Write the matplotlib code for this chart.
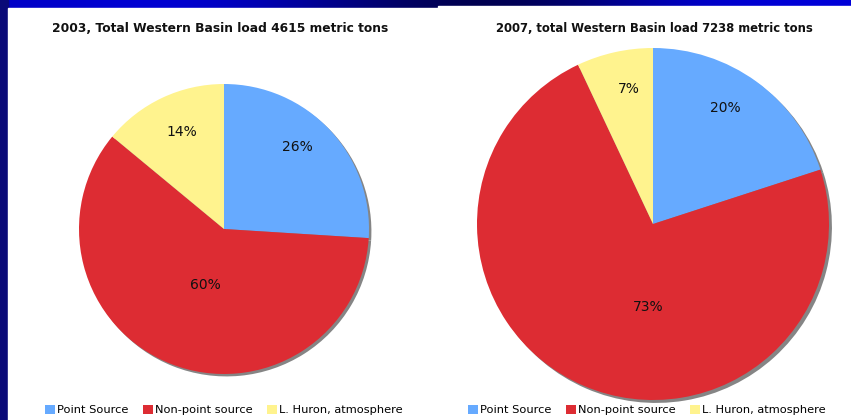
import numpy as np
import matplotlib.pyplot as plt
from matplotlib.patches import Patch, Rectangle

categories = ['Point Source', 'Non-point source', 'L. Huron, atmosphere']
colors = ['#66AAFF', '#DD2C33', '#FFF38E']

title_2003 = '2003, Total Western Basin load 4615 metric tons'
share_2003 = [26, 60, 14]
title_2007 = '2007, total Western Basin load 7238 metric tons'
share_2007 = [20, 73, 7]

W, H = 851, 420
fig = plt.figure(figsize=(W / 100, H / 100), dpi=100)

# blue slide background with a gradient band along the top
bg = fig.add_axes([0, 0, 1, 1])
bg.set_axis_off()
grad = np.array([[0.78, 0.86, 0.70, 0.45, 0.25, 0.45, 0.80, 0.85]])
bg.imshow(np.dstack([np.zeros_like(grad), np.zeros_like(grad), grad]),
          aspect='auto', extent=[0, 1, 0, 1], interpolation='bicubic')
bg.add_patch(Rectangle((0, 0), 8 / W, 1, color='#0a0a78', transform=bg.transAxes))
bg.add_patch(Rectangle((8 / W, 0), 1, (H - 8) / H, color='white', transform=bg.transAxes))
bg.add_patch(Rectangle((438 / W, 0), 1, (H - 6) / H, color='white', transform=bg.transAxes))
bg.set_xlim(0, 1)
bg.set_ylim(0, 1)


def draw_pie(cx, cy, r, values, title, title_x, title_size, label_dist,
             label_turn, legend_x):
    pad = 1.08
    s = r * pad
    ax = fig.add_axes([(cx - s) / W, (H - cy - s) / H, 2 * s / W, 2 * s / H])
    ax.set_axis_off()
    wedges, texts, autos = ax.pie(
        values, colors=colors, startangle=90, counterclock=False,
        autopct='%d%%', radius=1,
        wedgeprops=dict(linewidth=0),
        shadow={'ox': 0.012, 'oy': -0.012, 'facecolor': '#858585',
                'edgecolor': 'none', 'alpha': 1.0},
        textprops=dict(fontsize=10, color='#111111'))
    # Excel-style label placement inside each slice
    for w, t, d, turn in zip(wedges, autos, label_dist, label_turn):
        mid = np.deg2rad((w.theta1 + w.theta2) / 2 + turn)
        t.set_position((d * np.cos(mid), d * np.sin(mid)))
    ax.set_xlim(-pad, pad)
    ax.set_ylim(-pad, pad)
    fig.text(title_x / W, 1 - 28 / H, title, ha='center', va='center',
             fontsize=title_size, fontweight='bold', color='#111111')
    handles = [Patch(facecolor=c, edgecolor='none') for c in colors]
    fig.legend(handles, categories, loc='center', ncol=3,
               bbox_to_anchor=(legend_x / W, 10 / H), frameon=False,
               fontsize=8.2, handlelength=0.85, handleheight=0.85,
               handletextpad=0.2, columnspacing=1.3, borderpad=0)


draw_pie(224, 229, 145, share_2003, title_2003, 220, 8.8,
         [0.76, 0.41, 0.73], [5, 3, -2], 224)
draw_pie(653, 224, 176, share_2007, title_2007, 654, 8.4,
         [0.78, 0.47, 0.78], [4, 20, -2.6], 647)

fig.savefig('out.png', dpi=100)
